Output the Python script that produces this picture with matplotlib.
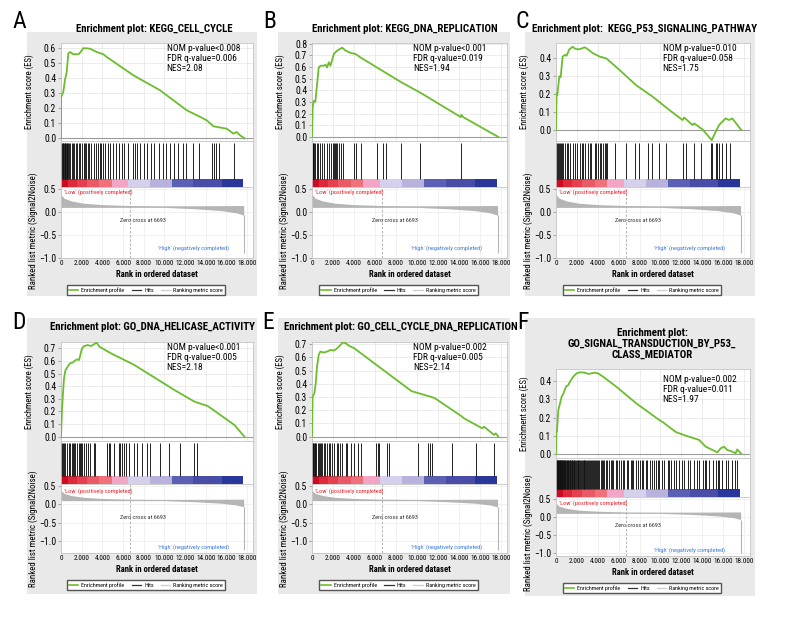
import matplotlib
matplotlib.use('Agg')
import matplotlib.pyplot as plt
from matplotlib.lines import Line2D
from matplotlib.patches import Rectangle

plt.rcParams['font.family'] = ['Roboto Condensed', 'Liberation Sans', 'DejaVu Sans']

W, H = 792, 624

# ---------------- data ----------------
letters = ['A', 'B', 'C', 'D', 'E', 'F']
titles = ['Enrichment plot: KEGG_CELL_CYCLE',
          'Enrichment plot: KEGG_DNA_REPLICATION',
          'Enrichment plot:  KEGG_P53_SIGNALING_PATHWAY',
          'Enrichment plot: GO_DNA_HELICASE_ACTIVITY',
          'Enrichment plot: GO_CELL_CYCLE_DNA_REPLICATION',
          'Enrichment plot:\nGO_SIGNAL_TRANSDUCTION_BY_P53_\nCLASS_MEDIATOR']
nom_p = ['NOM p-value<0.008', 'NOM p-value<0.001', 'NOM p-value=0.010',
         'NOM p-value<0.001', 'NOM p-value=0.002', 'NOM p-value=0.002']
fdr_q = ['FDR q-value=0.006', 'FDR q-value=0.019', 'FDR q-value=0.058',
         'FDR q-value=0.005', 'FDR q-value=0.005', 'FDR q-value=0.011']
nes = ['NES=2.08', 'NES=1.94', 'NES=1.75', 'NES=2.18', 'NES=2.14', 'NES=1.97']

a_es_rank = [0, 10, 226, 387, 548, 710, 871, 1194, 1680, 1840, 2162, 2485, 2807, 3453, 4098,
             4420, 7001, 9582, 12164, 13454, 14100, 14745, 16036, 16681, 17004, 17326, 17750]
a_es_score = [0.0, 0.275, 0.31, 0.39, 0.44, 0.565, 0.575, 0.56, 0.56, 0.57, 0.60, 0.60, 0.597, 0.575, 0.56,
              0.542, 0.42, 0.32, 0.187, 0.143, 0.12, 0.08, 0.064, 0.031, 0.042, 0.02, 0.0]
a_hits = [32, 97, 161, 226, 290, 355, 420, 484, 549, 613, 678, 775, 904, 1033, 1162, 1291, 1420,
          1581, 1743, 1872, 2065, 2194, 2323, 2452, 2582, 2743, 2904, 3162, 3356, 3550, 3743, 3905,
          4066, 4260, 4518, 4776, 5034, 5292, 5615, 5873, 6131, 6519, 6970, 7164, 7358, 7680, 8068,
          8326, 8713, 8971, 9487, 9875, 10197, 10520, 10907, 11359, 11811, 12069, 12779, 13360,
          14651, 14844, 15038, 15296, 16716]

b_es_rank = [0, 64, 160, 320, 480, 640, 800, 1120, 1280, 1440, 1600, 1760, 2080, 2400, 2880, 3200,
             3680, 4160, 4640, 8480, 10400, 14176, 14240, 14400, 17750]
b_es_score = [0.0, 0.255, 0.31, 0.30, 0.45, 0.595, 0.61, 0.61, 0.62, 0.595, 0.64, 0.61, 0.71, 0.74,
              0.765, 0.74, 0.72, 0.71, 0.68, 0.47, 0.375, 0.17, 0.19, 0.17, 0.0]
b_hits = [77, 125, 221, 317, 461, 605, 797, 989, 1181, 1469, 1661, 1853, 2016, 2141, 2237, 2333,
          2429, 2525, 2717, 2976, 3965, 4157, 4704, 6240, 6720, 7037, 8477, 10301, 14237]

c_es_rank = [0, 60, 127, 317, 444, 635, 857, 1016, 1270, 1587, 1809, 2126, 2444, 2761, 3078, 3554,
             4189, 4824, 6093, 7680, 9267, 10853, 12122, 12281, 13075, 13234, 14027, 14916, 15138,
             15614, 15931, 16248, 16565, 16883, 17750]
c_es_score = [0.0, 0.205, 0.195, 0.30, 0.295, 0.41, 0.42, 0.415, 0.45, 0.465, 0.455, 0.45, 0.455,
              0.462, 0.45, 0.428, 0.41, 0.40, 0.335, 0.25, 0.186, 0.112, 0.056, 0.07, 0.028, 0.037,
              0.004, -0.056, -0.028, 0.028, 0.047, 0.065, 0.056, 0.065, 0.0]
c_hits = [20, 95, 190, 286, 381, 476, 571, 698, 857, 1015, 1174, 1333, 1587, 1809, 2031, 2285,
          2443, 2602, 2761, 3078, 3236, 3395, 3712, 3871, 4030, 4188, 4347, 4506, 4664, 4760, 4886,
          5616, 6727, 7520, 7996, 8789, 9202, 9900, 10534, 12121, 12438, 13231, 13866, 14818, 14976,
          15294, 15452, 15611, 15928, 16246, 16627]

d_es_rank = [0, 97, 194, 290, 420, 645, 871, 1130, 1355, 1549, 1743, 1872, 2033, 2259, 2582, 2904,
             3227, 3453, 3711, 4841, 7099, 9681, 10972, 12908, 13554, 14199, 16781, 17750]
d_es_score = [0.0, 0.212, 0.344, 0.462, 0.523, 0.555, 0.581, 0.587, 0.602, 0.613, 0.607, 0.647,
              0.70, 0.718, 0.726, 0.718, 0.734, 0.745, 0.713, 0.66, 0.568, 0.436, 0.37, 0.278, 0.26,
              0.243, 0.093, 0.0]
d_hits = [30, 29, 126, 223, 319, 416, 581, 736, 900, 1026, 1162, 1287, 1384, 1549, 1704, 1801,
          1936, 2062, 2188, 2449, 2575, 2836, 3156, 3320, 4453, 4608, 4772, 5092, 5576, 5740, 5905,
          6060, 6321, 6544, 7028, 7357, 7841, 8325, 8644, 9612, 10416, 11548, 12836, 13165]

e_es_rank = [0, 61, 222, 350, 479, 640, 800, 1121, 1443, 1764, 2085, 2407, 2728, 2889, 3210, 3532,
             4014, 9476, 11404, 11726, 14296, 14457, 16224, 16385, 17349, 17510, 17750]
e_es_score = [0.0, 0.303, 0.328, 0.40, 0.53, 0.62, 0.645, 0.637, 0.645, 0.657, 0.652, 0.67, 0.695,
              0.713, 0.708, 0.688, 0.67, 0.345, 0.30, 0.29, 0.152, 0.14, 0.063, 0.076, 0.013, 0.025, 0.0]
e_hits = [30, 64, 129, 193, 257, 321, 418, 546, 643, 739, 868, 964, 1125, 1285, 1446, 1607, 1703,
          1928, 2088, 2346, 2474, 2667, 2892, 3213, 3374, 3695, 4016, 4338, 4659, 6105, 6265, 6426,
          7165, 7294, 10121, 11085, 11246, 11406, 13334, 15583, 17350]

f_es_rank = [0, 40, 100, 222, 381, 540, 698, 952, 1174, 1333, 1650, 1968, 2285, 2761, 3078, 3395,
             3713, 4030, 4506, 5776, 7680, 9901, 10218, 11487, 12439, 13709, 14344, 15455, 15772,
             16089, 16407, 16883, 17200, 17359, 17750]
f_es_score = [0.0, 0.113, 0.13, 0.24, 0.277, 0.314, 0.33, 0.369, 0.378, 0.396, 0.424, 0.442, 0.448,
              0.446, 0.439, 0.442, 0.446, 0.442, 0.424, 0.369, 0.278, 0.186, 0.175, 0.12, 0.10, 0.077,
              0.04, 0.009, 0.031, 0.04, 0.022, 0.013, 0.004, 0.025, 0.0]
f_hits = [15, 45, 80, 120, 150, 190, 230, 260, 300, 345, 380, 420, 470, 510, 550, 600, 640, 690,
          740, 800, 850, 900, 960, 1010, 1070, 1120, 1190, 1250, 1310, 1360, 1430, 1500, 1560, 1620,
          1700, 1760, 1830, 1900, 1990, 2060, 2140, 2230, 2300, 2390, 2460, 2560, 2640, 2720, 2810,
          2900, 2980, 3080, 3170, 3260, 3350, 3450, 3520, 3640, 3730, 3850, 3940, 4060, 4150, 4280,
          4400, 4520, 4640, 4790, 4900, 5050, 5230, 5360, 5480, 5700, 5850, 6000, 6250, 6400, 6550,
          6780, 6900, 7150, 7300, 7420, 7700, 7850, 8050, 8200, 8350, 8600, 8750, 9050, 9200, 9350,
          9600, 9750, 9900, 10150, 10300, 10700, 10850, 11000, 11300, 11450, 11800, 12100, 12250,
          12600, 12800, 13200, 13500, 13700, 14100, 14300, 14350, 14700, 15000, 15300, 15500, 15650,
          15900, 16300, 16500, 16900, 17150, 17300]

# ranked list metric (same dataset for all six panels)
metric_rank = [0, 300, 1000, 2200, 4000, 6693, 10000, 13000, 15500, 17000, 17680]
metric_upper = [0.38, 0.30, 0.24, 0.19, 0.16, 0.14, 0.135, 0.135, 0.138, 0.14, 0.14]
metric_lower = [0.10, 0.10, 0.10, 0.10, 0.10, 0.10, 0.10, 0.07, 0.03, -0.02, -0.07]
spike_rank = 17680
zero_cross = 6693

# colour bar blocks under the hits
bar_edges = [0, 650, 1500, 2480, 3700, 4900, 6500, 8600, 10700, 12800, 15550, 17650]
bar_colors = ['#cc0a22', '#dc2a3a', '#e4404e', '#ea5a66', '#ef717c', '#f2a5c5', '#d5d1ec',
              '#b8b2dd', '#5c60b5', '#4a4da7', '#283799']

es_ranks = [a_es_rank, b_es_rank, c_es_rank, d_es_rank, e_es_rank, f_es_rank]
es_scores = [a_es_score, b_es_score, c_es_score, d_es_score, e_es_score, f_es_score]
hits = [a_hits, b_hits, c_hits, d_hits, e_hits, f_hits]

# ---------------- layout (pixels) ----------------
top = dict(es=(43, 141), hit_bot=187, met_bot=258, title_y=29, letter_y=21,
           box=(32, 296), met_ylim=(-1.0, 0.543), spike=-0.9, met_lab_y=231,
           low_y=0.93, zero_y=0.535, high_y=0.14)
bot = dict(es=(342, 441), hit_bot=484, met_bot=553, title_y=327, letter_y=322,
           box=(318, 594), met_ylim=(-1.33, 0.555), spike=-1.25, met_lab_y=529,
           low_y=0.90, zero_y=0.52, high_y=0.09)
fbot = dict(es=(369, 458), hit_bot=497, met_bot=556, title_y=344, letter_y=322,
            box=(318, 596), met_ylim=(-1.083, 0.555), spike=-1.0, met_lab_y=533,
            low_y=0.90, zero_y=0.52, high_y=0.10)
layouts = [
    dict(top, L=61, R=253, bx=(27, 257), letter_x=19, title_x=154,
         es_ylim=(-0.018, 0.635), es_ticks=[0, .1, .2, .3, .4, .5, .6], stat_x=0.55, stat_y=0.99),
    dict(top, L=312, R=507, bx=(278, 510), letter_x=270, title_x=405,
         es_ylim=(-0.035, 0.805), es_ticks=[0, .1, .2, .3, .4, .5, .6, .7, .8], stat_x=0.52, stat_y=0.99),
    dict(top, L=556, R=750, bx=(525, 755), letter_x=522, title_x=644,
         es_ylim=(-0.061, 0.486), es_ticks=[0, .1, .2, .3, .4], stat_x=0.55, stat_y=0.99),
    dict(bot, L=61, R=253, bx=(27, 257), letter_x=19, title_x=152,
         es_ylim=(-0.034, 0.75), es_ticks=[0, .1, .2, .3, .4, .5, .6, .7], stat_x=0.55, stat_y=0.99),
    dict(bot, L=312, R=507, bx=(278, 510), letter_x=268, title_x=401,
         es_ylim=(-0.033, 0.717), es_ticks=[0, .1, .2, .3, .4, .5, .6, .7], stat_x=0.52, stat_y=0.99),
    dict(fbot, L=556, R=750, bx=(525, 755), letter_x=523, title_x=652,
         es_ylim=(-0.022, 0.466), es_ticks=[0, .1, .2, .3, .4], stat_x=0.55, stat_y=0.93),
]

GREEN = '#6cbd2e'
XMAX = 18580
xticks = list(range(0, 18001, 2000))
xlabels = ['0'] + ['{:,}'.format(t).replace(',', '.') for t in xticks[1:]]

fig = plt.figure(figsize=(W / 100, H / 100), dpi=100)


def px_axes(l, t, r, b):
    return fig.add_axes([l / W, 1 - b / H, (r - l) / W, (b - t) / H])


def style(ax):
    for s in ax.spines.values():
        s.set_color('#c4c4c4')
        s.set_linewidth(0.6)
    ax.set_xlim(0, XMAX)


for i, lay in enumerate(layouts):
    L, R = lay['L'], lay['R']
    # grey panel background
    fig.patches.append(Rectangle((lay['bx'][0] / W, 1 - lay['box'][1] / H),
                                 (lay['bx'][1] - lay['bx'][0]) / W,
                                 (lay['box'][1] - lay['box'][0]) / H,
                                 transform=fig.transFigure, facecolor='#e9e9e9',
                                 edgecolor='none', zorder=-10))
    fig.text(lay['letter_x'] / W, 1 - lay['letter_y'] / H, letters[i], fontsize=17,
             ha='center', va='center')
    fig.text(lay['title_x'] / W, 1 - lay['title_y'] / H, titles[i], fontsize=7.8,
             fontweight='bold', ha='center', va='center', linespacing=1.15)

    # enrichment score
    ax = px_axes(L, lay['es'][0], R, lay['es'][1])
    style(ax)
    ax.plot(es_ranks[i], es_scores[i], color=GREEN, lw=1.3, zorder=3)
    ax.axhline(0, color='#9c9c9c', lw=0.8, zorder=2)
    ax.set_ylim(*lay['es_ylim'])
    ax.set_xticks(xticks)
    ax.set_xticklabels([])
    ax.set_yticks(lay['es_ticks'])
    ax.set_yticklabels(['%.1f' % t for t in lay['es_ticks']])
    ax.tick_params(axis='x', length=0)
    ax.tick_params(axis='y', length=2, width=0.5, color='#888888', labelsize=7, pad=1.5)
    ax.grid(color='#e4e4e4', lw=0.5)
    ax.set_axisbelow(True)
    ax.set_ylabel('Enrichment score (ES)', fontsize=6.2)
    ax.yaxis.set_label_coords(-27 / (R - L), 0.5)
    ax.text(lay['stat_x'], lay['stat_y'], '\n'.join([nom_p[i], fdr_q[i], nes[i]]),
            transform=ax.transAxes, ha='left', va='top', fontsize=6.8, linespacing=1.15)

    # hits + colour bar
    hx = px_axes(L, lay['es'][1], R, lay['hit_bot'])
    style(hx)
    cb = 8 / (lay['hit_bot'] - lay['es'][1])
    hx.vlines(hits[i], cb, 0.96, color='#111111', lw=0.65)
    hx.broken_barh([(bar_edges[k], bar_edges[k + 1] - bar_edges[k]) for k in range(len(bar_colors))],
                   (0, cb), facecolors=bar_colors)
    hx.set_ylim(0, 1)
    hx.set_xticks([])
    hx.set_yticks([])

    # ranked list metric
    mx = px_axes(L, lay['hit_bot'], R, lay['met_bot'])
    style(mx)
    mx.fill_between(metric_rank, metric_lower, metric_upper, color='#b5b5b5', lw=0)
    mx.vlines(spike_rank, lay['spike'], metric_lower[-1], color='#b5b5b5', lw=0.8)
    mx.axvline(zero_cross, color='#aaaaaa', lw=0.6, ls=(0, (3, 2)))
    mx.set_ylim(*lay['met_ylim'])
    mx.set_yticks([0.5, 0.0, -0.5, -1.0])
    mx.set_yticklabels(['0.5', '0.0', '\u22120.5', '\u22121.0'])
    mx.set_xticks(xticks)
    mx.set_xticklabels(xlabels)
    mx.tick_params(axis='x', length=0, labelsize=5.2, pad=1.5)
    mx.tick_params(axis='y', length=2, width=0.5, color='#888888', labelsize=7, pad=1.5)
    mx.grid(color='#ececec', lw=0.5)
    mx.set_axisbelow(True)
    mx.set_xlabel('Rank in ordered dataset', fontsize=6.2, fontweight='bold', labelpad=2)
    mx.text(250, lay['low_y'], "'Low' (positively completed)", color='#e8202a', fontsize=4.5,
            transform=mx.get_xaxis_transform(), ha='left', va='center')
    mx.text(7900, lay['zero_y'], 'Zero cross at 6693', color='#333333', fontsize=4.5,
            transform=mx.get_xaxis_transform(), ha='center', va='center')
    mx.text(9400, lay['high_y'], "'High' (negatively completed)", color='#3b7dd8', fontsize=4.5,
            transform=mx.get_xaxis_transform(), ha='left', va='center')
    fig.text((L - 28) / W, 1 - lay['met_lab_y'] / H, 'Ranked list metric (Signal2Noise)',
             rotation=90, fontsize=6.4, ha='center', va='center')

    handles = [Line2D([], [], color=GREEN, lw=1.2), Line2D([], [], color='#333333', lw=0.9),
               Line2D([], [], color='#cccccc', lw=0.9)]
    fig.legend(handles, ['Enrichment profile', 'Hits', 'Ranking metric score'], loc='center',
               bbox_to_anchor=((L + R) / 2 / W - 11 / W, 1 - (lay['met_bot'] + 32) / H),
               ncol=3, fontsize=4.3, frameon=True, fancybox=False, edgecolor='#555555',
               framealpha=1, handlelength=1.6, handletextpad=0.5, columnspacing=1.2,
               borderpad=0.35)

fig.savefig('out.png', dpi=100)
